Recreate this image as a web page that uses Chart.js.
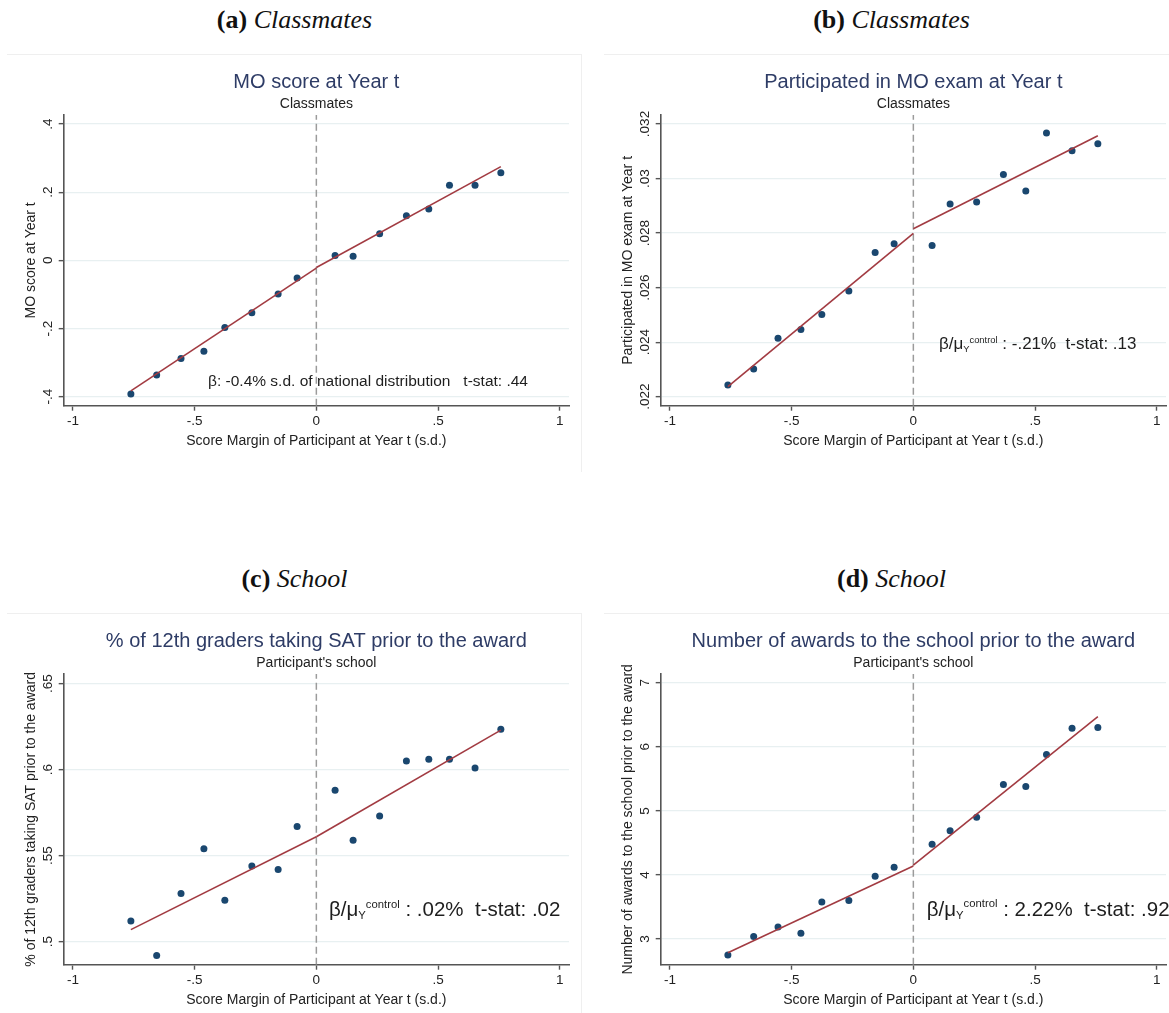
<!DOCTYPE html>
<html>
<head>
<meta charset="utf-8">
<title>RD plots: classmates and school outcomes</title>
<script src="https://cdn.jsdelivr.net/npm/chart.js@4.4.1/dist/chart.umd.min.js"></script>
<style>
  html, body { margin: 0; padding: 0; background: #fff; overflow: hidden; }
  body { width: 1169px; height: 1013px; position: relative; }
  .panel { position: absolute; width: 575px; height: 480px; }
  .caption { position: absolute; left: 0; top: 4px; width: 575px; text-align: center; line-height: 32px;
             font-family: "Liberation Serif", "DejaVu Serif", serif; font-size: 26px; color: #111; }
  .caption b { font-weight: bold; }
  .caption i { font-style: italic; }
  .frame { position: absolute; left: 0; top: 54px; width: 575px; height: 418px; box-sizing: border-box;
           border-top: 1px solid #efefef; border-right: 1px solid #efefef; }
  .panel canvas { position: absolute; left: 0; top: 54px; }
</style>
</head>
<body>
<div class="panel" style="left:7px; top:0px;">
  <div class="caption"><b>(a)</b> <i>Classmates</i></div>
  <div class="frame"></div>
  <canvas id="chartA" width="575" height="418"></canvas>
</div>
<div class="panel" style="left:604px; top:0px;">
  <div class="caption"><b>(b)</b> <i>Classmates</i></div>
  <div class="frame"></div>
  <canvas id="chartB" width="575" height="418"></canvas>
</div>
<div class="panel" style="left:7px; top:559px;">
  <div class="caption"><b>(c)</b> <i>School</i></div>
  <div class="frame"></div>
  <canvas id="chartC" width="575" height="418"></canvas>
</div>
<div class="panel" style="left:604px; top:559px;">
  <div class="caption"><b>(d)</b> <i>School</i></div>
  <div class="frame"></div>
  <canvas id="chartD" width="575" height="418"></canvas>
</div>

<script>
const sans = '"Liberation Sans", Arial, Helvetica, sans-serif';

// mean score margin in each bin (s.d.)
const binX = [-0.762, -0.656, -0.556, -0.462, -0.376, -0.265, -0.157, -0.079,
              0.077, 0.151, 0.260, 0.370, 0.462, 0.547, 0.652, 0.758];
const xRange = [-1.038, 1.038];
const xTicks = [-1, -0.5, 0, 0.5, 1];
const xTickLabels = ['-1', '-.5', '0', '.5', '1'];

// (a) classmates' MO score at year t
const scoreMeans = [-0.392, -0.336, -0.288, -0.267, -0.197, -0.154, -0.099, -0.052,
                    0.014, 0.012, 0.078, 0.131, 0.151, 0.220, 0.220, 0.257];
const scoreFitLeft = [-0.383, -0.023];   // at first bin, at cutoff
const scoreFitRight = [-0.021, 0.275];   // at cutoff, at last bin
const scoreRange = [-0.4264, 0.4264];
const scoreTicks = [-0.4, -0.2, 0, 0.2, 0.4];
const scoreTickLabels = ['-.4', '-.2', '0', '.2', '.4'];

// (b) classmates taking the MO exam at year t
const examMeans = [0.02243, 0.02302, 0.02414, 0.02446, 0.02501, 0.02588, 0.02729, 0.02761,
                   0.02754, 0.02907, 0.02914, 0.03015, 0.02954, 0.03167, 0.03102, 0.03128];
const examFitLeft = [0.02237, 0.02799];
const examFitRight = [0.02816, 0.03157];
const examRange = [0.02167, 0.03233];
const examTicks = [0.022, 0.024, 0.026, 0.028, 0.030, 0.032];
const examTickLabels = ['.022', '.024', '.026', '.028', '.03', '.032'];

// (c) share of 12th graders taking the SAT before the award
const satMeans = [0.512, 0.492, 0.528, 0.554, 0.524, 0.544, 0.542, 0.567,
                  0.588, 0.559, 0.573, 0.605, 0.606, 0.606, 0.601, 0.6235];
const satFitLeft = [0.507, 0.561];
const satFitRight = [0.561, 0.623];
const satRange = [0.4866, 0.6556];
const satTicks = [0.5, 0.55, 0.6, 0.65];
const satTickLabels = ['.5', '.55', '.6', '.65'];

// (d) number of earlier awards to the school
const awardMeans = [2.75, 3.04, 3.19, 3.09, 3.58, 3.60, 3.98, 4.12,
                    4.48, 4.69, 4.90, 5.41, 5.38, 5.88, 6.29, 6.30];
const awardFitLeft = [2.787, 4.139];
const awardFitRight = [4.155, 6.469];
const awardRange = [2.60, 7.136];
const awardTicks = [3, 4, 5, 6, 7];
const awardTickLabels = ['3', '4', '5', '6', '7'];

const xTitle = 'Score Margin of Participant at Year t (s.d.)';
const dotColor = '#1a476f';
const fitColor = '#a23b42';
const titleColor = '#2e3c66';
const textColor = '#222';
const axisColor = '#555';
const tickFont = 13.5;

const panels = [
  { id: 'chartA', title: 'MO score at Year t', subtitle: 'Classmates', yTitle: 'MO score at Year t',
    means: scoreMeans, fitLeft: scoreFitLeft, fitRight: scoreFitRight,
    range: scoreRange, ticks: scoreTicks, tickLabels: scoreTickLabels,
    note: { x: -0.445, y: -0.353, size: 15.5, lead: 'β: -0.4% s.d. of national distribution   t-stat: .44' } },
  { id: 'chartB', title: 'Participated in MO exam at Year t', subtitle: 'Classmates', yTitle: 'Participated in MO exam at Year t',
    means: examMeans, fitLeft: examFitLeft, fitRight: examFitRight,
    range: examRange, ticks: examTicks, tickLabels: examTickLabels,
    note: { x: 0.105, y: 0.02396, size: 17, lead: 'β/μ', sub: 'Y', sup: 'control', tail: ' : -.21%  t-stat: .13' } },
  { id: 'chartC', title: '% of 12th graders taking SAT prior to the award', subtitle: "Participant's school",
    yTitle: '% of 12th graders taking SAT prior to the award',
    means: satMeans, fitLeft: satFitLeft, fitRight: satFitRight,
    range: satRange, ticks: satTicks, tickLabels: satTickLabels,
    note: { x: 0.052, y: 0.519, size: 20.5, lead: 'β/μ', sub: 'Y', sup: 'control', tail: ' : .02%  t-stat: .02' } },
  { id: 'chartD', title: 'Number of awards to the school prior to the award', subtitle: "Participant's school",
    yTitle: 'Number of awards to the school prior to the award',
    means: awardMeans, fitLeft: awardFitLeft, fitRight: awardFitRight,
    range: awardRange, ticks: awardTicks, tickLabels: awardTickLabels,
    note: { x: 0.055, y: 3.48, size: 20.5, lead: 'β/μ', sub: 'Y', sup: 'control', tail: ' : 2.22%  t-stat: .92' } }
];

// coefficient text placed at data coordinates, with the Y subscript and "control" superscript
const notePlugin = {
  id: 'noteText',
  afterDatasetsDraw(chart, args, o) {
    if (!o || !o.lead) return;
    const ctx = chart.ctx;
    const xs = chart.scales.x, ys = chart.scales.y;
    let px = xs.getPixelForValue(o.x);
    const base = ys.getPixelForValue(o.y) + o.size * 0.36;
    const main = o.size + 'px ' + sans;
    const small = (o.size * 0.55).toFixed(1) + 'px ' + sans;
    ctx.save();
    ctx.fillStyle = '#1e1e1e';
    ctx.textAlign = 'left';
    ctx.textBaseline = 'alphabetic';
    ctx.font = main;
    ctx.fillText(o.lead, px, base);
    px += ctx.measureText(o.lead).width;
    if (o.sub) {
      ctx.font = small;
      ctx.fillText(o.sub, px, base + o.size * 0.15);
      px += ctx.measureText(o.sub).width;
      ctx.fillText(o.sup, px, base - o.size * 0.4);
      px += ctx.measureText(o.sup).width;
      ctx.font = main;
      ctx.fillText(o.tail, px, base);
    }
    ctx.restore();
  }
};

const measure = document.createElement('canvas').getContext('2d');

function drawPanel(p) {
  // rotated y labels are centred this far left of the axis line
  measure.font = tickFont + 'px ' + sans;
  const widest = Math.max(...p.tickLabels.map(t => measure.measureText(t).width));
  const yPad = 15.3 - 5 - widest / 2;

  new Chart(document.getElementById(p.id), {
    type: 'scatter',
    data: {
      datasets: [
        { data: [{ x: binX[0], y: p.fitLeft[0] }, { x: 0, y: p.fitLeft[1] }],
          showLine: true, borderColor: fitColor, borderWidth: 1.6, pointRadius: 0 },
        { data: [{ x: 0, y: p.fitRight[0] }, { x: binX[binX.length - 1], y: p.fitRight[1] }],
          showLine: true, borderColor: fitColor, borderWidth: 1.6, pointRadius: 0 },
        { data: binX.map((x, i) => ({ x: x, y: p.means[i] })),
          pointRadius: 3.5, backgroundColor: dotColor, borderColor: dotColor, borderWidth: 0 },
        { data: [{ x: 0, y: p.range[0] }, { x: 0, y: p.range[1] }],
          showLine: true, borderColor: '#9b9b9b', borderWidth: 1.5, borderDash: [7, 4], pointRadius: 0 }
      ]
    },
    options: {
      responsive: false,
      animation: false,
      layout: { padding: { left: 0, right: 13, top: 0, bottom: 0 } },
      plugins: {
        legend: { display: false },
        tooltip: { enabled: false },
        title: { display: true, fullSize: false, text: p.title, color: titleColor,
                 font: { family: sans, size: 20, weight: 'normal' }, padding: { top: 16, bottom: 0 } },
        subtitle: { display: true, fullSize: false, text: p.subtitle, color: textColor,
                    font: { family: sans, size: 14, weight: 'normal' }, padding: { top: 1.6, bottom: 2.6 } },
        noteText: p.note
      },
      scales: {
        x: {
          type: 'linear', min: xRange[0], max: xRange[1],
          afterBuildTicks: s => { s.ticks = xTicks.map(v => ({ value: v })); },
          afterFit: s => { s.height = 66.3; },
          ticks: { callback: (v, i) => xTickLabels[i], color: textColor, padding: 2.2,
                   font: { family: sans, size: tickFont }, maxRotation: 0, autoSkip: false },
          grid: { drawOnChartArea: false, tickLength: 5, tickColor: axisColor, tickWidth: 1.4 },
          border: { color: axisColor, width: 1.6 },
          title: { display: true, text: xTitle, color: textColor,
                   font: { family: sans, size: 14 }, padding: { top: 0, bottom: 22.6 } }
        },
        y: {
          type: 'linear', min: p.range[0], max: p.range[1],
          afterBuildTicks: s => { s.ticks = p.ticks.map(v => ({ value: v })); },
          afterFit: s => { s.width = 56.7; },
          ticks: { callback: (v, i) => p.tickLabels[i], color: textColor, padding: yPad,
                   font: { family: sans, size: tickFont }, minRotation: 90, maxRotation: 90,
                   crossAlign: 'center', autoSkip: false },
          grid: { color: '#e8f0f1', lineWidth: 1.3, tickLength: 5, tickColor: axisColor, tickWidth: 1.4 },
          border: { color: axisColor, width: 1.6 },
          title: { display: true, text: p.yTitle, color: textColor,
                   font: { family: sans, size: 14 }, padding: { top: 15.6, bottom: 0 } }
        }
      }
    },
    plugins: [notePlugin]
  });
}

panels.forEach(drawPanel);
</script>
</body>
</html>
